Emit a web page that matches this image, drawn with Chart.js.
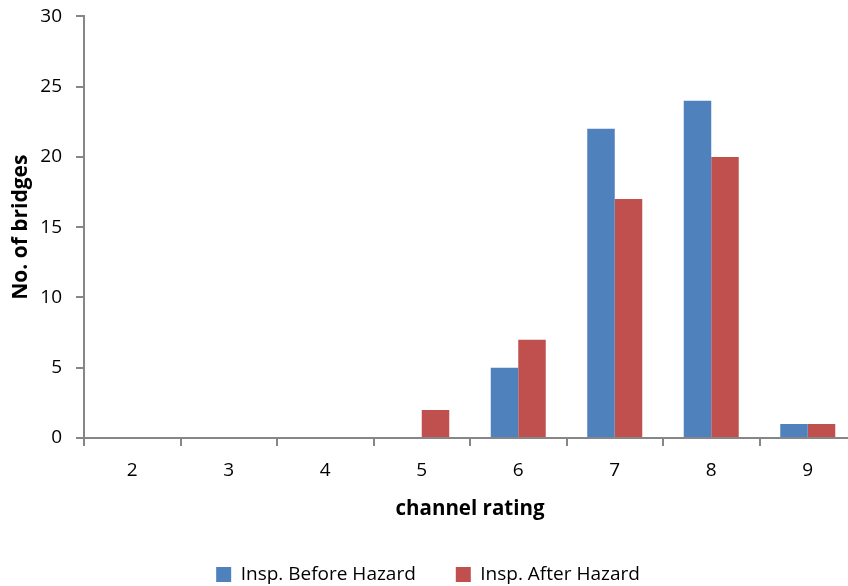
<!DOCTYPE html>
<html>
<head>
<meta charset="utf-8">
<script src="https://cdn.jsdelivr.net/npm/chart.js@4/dist/chart.umd.min.js"></script>
<style>
  html, body { margin: 0; padding: 0; background: #fff; overflow: hidden; }
  #wrap { width: 856px; height: 586px; overflow: hidden; position: relative; }
  #c { position: absolute; left: 0; top: -9px; }
</style>
</head>
<body>
<div id="wrap"><canvas id="c" width="856" height="595"></canvas></div>
<script>
// Channel rating categories and bridge counts per inspection
const ratings = ['2', '3', '4', '5', '6', '7', '8', '9'];
const beforeHazard = [0, 0, 0, 0, 5, 22, 24, 1];
const afterHazard = [0, 0, 0, 2, 7, 17, 20, 1];
const yTicks = [0, 5, 10, 15, 20, 25, 30];

const axisGray = '#868686';
const fontFamily = '"Open Sans", sans-serif';

// Keep the legend band a fixed height so the plot area sits where wanted
const legendHeight = {
  id: 'legendHeight',
  afterInit(chart) {
    const legend = chart.legend;
    if (legend) {
      const baseFit = legend.fit;
      legend.fit = function () { baseFit.call(this); this.height = 61; };
    }
  }
};

new Chart(document.getElementById('c'), {
  type: 'bar',
  data: {
    labels: ratings,
    datasets: [
      { label: 'Insp. Before Hazard', data: beforeHazard, backgroundColor: '#4F81BD', borderWidth: 0 },
      { label: 'Insp. After Hazard', data: afterHazard, backgroundColor: '#C0504D', borderWidth: 0 }
    ]
  },
  plugins: [legendHeight],
  options: {
    responsive: false,
    animation: false,
    devicePixelRatio: 1,
    layout: { padding: { left: 0, right: 0, top: 0, bottom: 0 } },
    datasets: { bar: { categoryPercentage: 0.57, barPercentage: 1.0 } },
    plugins: {
      legend: {
        position: 'bottom',
        labels: {
          boxWidth: 15, boxHeight: 15, padding: 40,
          color: '#000', font: { family: fontFamily, size: 19 }
        }
      },
      tooltip: { enabled: false }
    },
    scales: {
      x: {
        offset: true,
        afterFit: (scale) => { scale.height = 87; },
        grid: { display: true, drawOnChartArea: false, drawTicks: true, tickLength: 8, color: axisGray, lineWidth: 2, offset: true },
        border: { display: true, color: axisGray, width: 2 },
        ticks: { color: '#000', padding: 13, font: { family: fontFamily, size: 19 } },
        title: { display: true, text: 'channel rating', color: '#000', padding: { top: 4, bottom: 4 }, font: { family: fontFamily, size: 20.5, weight: 'bold' } }
      },
      y: {
        min: 0, max: 30,
        afterBuildTicks: (axis) => { axis.ticks = yTicks.map(v => ({ value: v })); },
        afterFit: (scale) => { scale.width = 84; },
        grid: { display: true, drawOnChartArea: false, drawTicks: true, tickLength: 8, color: axisGray, lineWidth: 2 },
        border: { display: true, color: axisGray, width: 2 },
        ticks: { color: '#000', padding: 14, font: { family: fontFamily, size: 19 } },
        title: { display: true, text: 'No. of bridges', color: '#000', padding: { top: 8, bottom: 0 }, font: { family: fontFamily, size: 21, weight: 'bold' } }
      }
    }
  }
});
</script>
</body>
</html>
